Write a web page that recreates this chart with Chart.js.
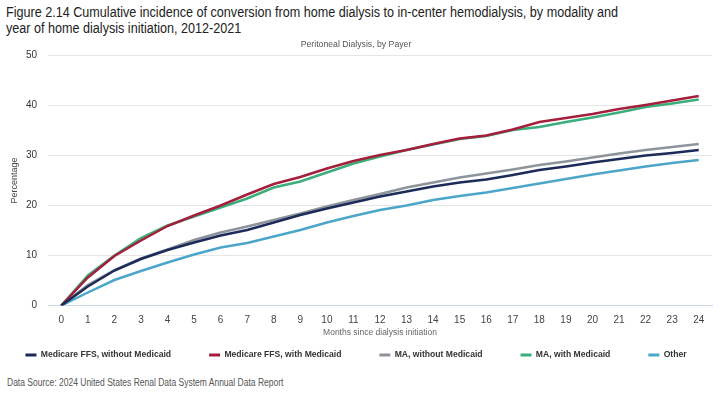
<!DOCTYPE html>
<html>
<head>
<meta charset="utf-8">
<script src="https://cdn.jsdelivr.net/npm/chart.js@4"></script>
<style>
    html, body { margin: 0; padding: 0; background: #fff; }
    body { width: 720px; height: 399px; position: relative; overflow: hidden; font-family: "Liberation Sans", Arial, sans-serif; }
    #title { position: absolute; left: 6px; top: 4px; font-size: 14px; line-height: 16px; color: #222; white-space: nowrap; transform: scaleX(0.9); transform-origin: 0 0; }
    #source { position: absolute; left: 7px; top: 377px; font-size: 10px; color: #555; white-space: nowrap; transform: scaleX(0.85); transform-origin: 0 0; }
    #wrap { position: absolute; left: 0; top: 36px; width: 720px; height: 334px; }
</style>
</head>
<body>
<div id="title">Figure 2.14 Cumulative incidence of conversion from home dialysis to in-center hemodialysis, by modality and<br>year of home dialysis initiation, 2012-2021</div>
<div id="wrap"><canvas id="chart"></canvas></div>
<div id="source">Data Source: 2024 United States Renal Data System Annual Data Report</div>
<script>
// months since initiation
var months = ['0','1','2','3','4','5','6','7','8','9','10','11','12','13','14','15','16','17','18','19','20','21','22','23','24'];

var ffsNoMedicaid   = [0, 3.8, 7.0, 9.3, 11.1, 12.6, 14.0, 15.1, 16.6, 18.1, 19.4, 20.6, 21.8, 22.8, 23.8, 24.6, 25.2, 26.1, 27.1, 27.8, 28.6, 29.3, 30.0, 30.5, 31.1];
var ffsWithMedicaid = [0, 5.6, 9.9, 13.0, 15.9, 18.0, 20.0, 22.2, 24.3, 25.7, 27.4, 28.9, 30.1, 31.1, 32.3, 33.4, 34.0, 35.2, 36.7, 37.5, 38.3, 39.3, 40.1, 41.0, 41.9];
var maNoMedicaid    = [0, 4.1, 7.1, 9.4, 11.2, 13.1, 14.6, 15.8, 17.1, 18.4, 19.8, 21.1, 22.3, 23.6, 24.6, 25.6, 26.4, 27.2, 28.1, 28.8, 29.6, 30.4, 31.1, 31.7, 32.3];
var maWithMedicaid  = [0, 6.0, 10.0, 13.5, 16.0, 17.8, 19.6, 21.4, 23.6, 24.8, 26.6, 28.4, 29.8, 31.1, 32.2, 33.3, 33.9, 35.1, 35.7, 36.7, 37.6, 38.6, 39.7, 40.4, 41.2];
var other           = [0, 2.6, 5.1, 6.9, 8.6, 10.2, 11.6, 12.5, 13.8, 15.1, 16.6, 17.9, 19.1, 20.0, 21.1, 21.9, 22.6, 23.5, 24.4, 25.3, 26.2, 27.0, 27.8, 28.5, 29.1];

var seriesNames  = ['Medicare FFS, without Medicaid', 'Medicare FFS, with Medicaid', 'MA, without Medicaid', 'MA, with Medicaid', 'Other'];
var seriesData   = [ffsNoMedicaid, ffsWithMedicaid, maNoMedicaid, maWithMedicaid, other];
var seriesColors = ['#1c2b5a', '#a51f3c', '#8e949b', '#3aae7b', '#4ba6c9'];

var datasets = seriesNames.map(function (name, i) {
    return {
        label: name,
        data: seriesData[i],
        borderColor: seriesColors[i],
        backgroundColor: seriesColors[i],
        borderWidth: 2.5,
        pointRadius: 0,
        tension: 0
    };
});

// legend keeps wide item spacing on one row but takes a shorter box,
// so the x axis title can sit closer to it
var legendCut = 24.3, legendShift = 25, legendSlack = 40;
var compactLegend = {
    id: 'compactLegend',
    afterInit: function (chart) {
        var legend = chart.legend;
        var fit = legend.fit, draw = legend.draw;
        legend.fit = function () {
            this.maxWidth += 2 * legendSlack;
            fit.apply(this, arguments);
            this.maxWidth -= 2 * legendSlack;
            this.height -= legendCut;
        };
        legend.draw = function () {
            var saved = [this.top, this.bottom, this.height, this.left, this.right, this.width];
            this.top -= legendShift;
            this.height += legendCut;
            this.left -= legendSlack;
            this.right += legendSlack;
            this.width += 2 * legendSlack;
            draw.apply(this, arguments);
            this.top = saved[0]; this.bottom = saved[1]; this.height = saved[2];
            this.left = saved[3]; this.right = saved[4]; this.width = saved[5];
        };
    }
};

new Chart(document.getElementById('chart'), {
    type: 'line',
    data: { labels: months, datasets: datasets },
    plugins: [compactLegend],
    options: {
        responsive: true,
        maintainAspectRatio: false,
        animation: false,
        layout: { padding: { left: 0, right: 8, top: 0, bottom: 0 } },
        plugins: {
            title: {
                display: true,
                text: 'Peritoneal Dialysis, by Payer',
                color: '#555',
                font: { family: 'Liberation Sans', size: 8.7, weight: 'normal' },
                padding: { top: 3, bottom: 6.1 }
            },
            legend: {
                position: 'bottom',
                labels: {
                    boxWidth: 11,
                    boxHeight: 3,
                    padding: 38,
                    color: '#333',
                    font: { family: 'Liberation Sans', size: 8.6, weight: 'bold' },
                    generateLabels: function (chart) {
                        var items = Chart.defaults.plugins.legend.labels.generateLabels(chart);
                        items.forEach(function (it) { it.lineWidth = 0; });
                        return items;
                    }
                }
            },
            tooltip: { enabled: false }
        },
        scales: {
            x: {
                offset: true,
                afterFit: function (scale) { scale.height = 32.2; },
                grid: { display: false, drawTicks: false },
                border: { color: '#ccd6eb' },
                ticks: { color: '#444', font: { family: 'Liberation Sans', size: 10 }, maxRotation: 0, autoSkip: false, padding: 9 },
                title: { display: true, text: 'Months since dialysis initiation', color: '#666', font: { family: 'Liberation Sans', size: 8.5 }, padding: { top: 1, bottom: 0 } }
            },
            y: {
                min: 0,
                max: 50,
                afterFit: function (scale) { scale.width = 48; },
                ticks: { stepSize: 10, color: '#333', font: { family: 'Liberation Sans', size: 10 }, padding: 11 },
                grid: { color: '#e6e6e6', drawTicks: false },
                border: { display: false },
                title: { display: true, text: 'Percentage', color: '#444', font: { family: 'Liberation Sans', size: 9 }, padding: { top: 9, bottom: 2 } }
            }
        }
    }
});
</script>
</body>
</html>
